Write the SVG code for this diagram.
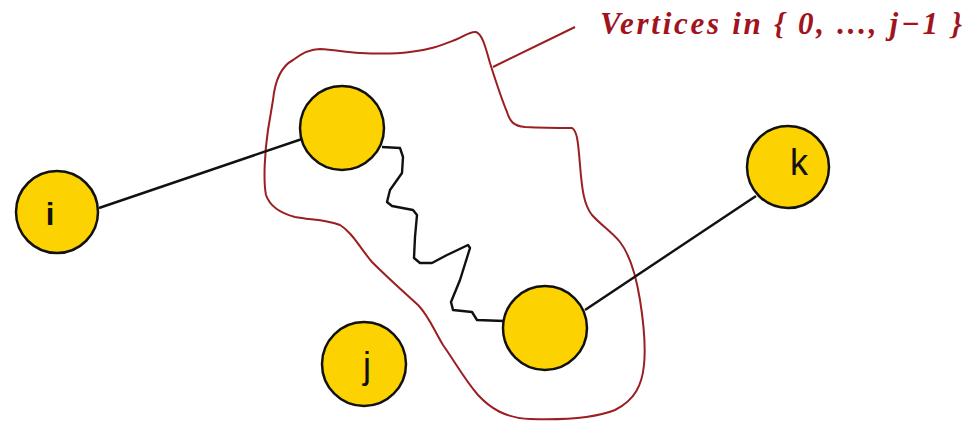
<svg xmlns="http://www.w3.org/2000/svg" width="965" height="421" viewBox="0 0 965 421">
<style>
.node{fill:#FCD200;stroke:#111;stroke-width:2.5}
.edge{fill:none;stroke:#111;stroke-width:2.4;stroke-linejoin:round}
.blob{fill:none;stroke:#9a1f22;stroke-width:2}
.lbl{font-family:"Liberation Sans",Arial,sans-serif;fill:#111;text-anchor:middle}
.cap{font-family:"Liberation Serif","Times New Roman",serif;font-style:italic;font-weight:bold;fill:#a0141e;font-size:31px}
</style>
<rect width="965" height="421" fill="#fff"/>
<g id="region">
<path class="blob" d="M273,100 C275,80 282,66 293,60 C302,53 310,49 320,49 C335,50 345,52 360,53 C380,54 395,54 410,52 C430,50 442,45 455,40 C465,36 470,31 476,32 C482,34 485,45 490,63 C496,82 502,100 507,112 C510,122 514,126 525,127 C545,128 560,128 572,128 C577,131 578,140 580,165 C582,190 584,205 592,215 C602,226 612,232 620,242 C630,255 636,275 640,300 C644,325 646,345 644,365 C642,385 635,400 615,410 C595,418 560,420 530,419 C505,418 490,408 478,395 C465,380 455,362 443,345 C433,328 428,315 418,305 C405,293 390,280 372,262 C360,248 352,232 340,225 C325,219 310,220 295,217 C280,213 270,207 266,195 C263,180 265,150 268,130 Z"/>
<path class="blob" d="M493,67 L575,27"/>
<text class="cap" x="600" y="34" textLength="362" lengthAdjust="spacing">Vertices in { 0, ..., j−1 }</text>
</g>
<g id="connectors">
<path class="edge" d="M99,208 L302,139"/>
<path class="edge" d="M585,310 L756,196"/>
<path class="edge" d="M382,147 L400,148 L403,157 L402,173 L390,190 L387,202 L392,206 L413,210 L417,215 L415,237 L414,258 L420,263 L432,263 L447,255 L468,245 L470,248 L460,280 L451,302 L453,310 L472,312 L477,320 L504,321"/>
</g>
<g id="node-i">
<circle class="node" cx="57" cy="212" r="41"/>
<text class="lbl" x="50" y="225" font-size="31" font-weight="bold">i</text>
</g>
<g id="node-a">
<circle class="node" cx="342" cy="128" r="42"/>
</g>
<g id="node-k">
<circle class="node" cx="788" cy="167" r="41"/>
<text class="lbl" x="799" y="175" font-size="36">k</text>
</g>
<g id="node-j">
<circle class="node" cx="364" cy="364" r="42"/>
<text class="lbl" x="367" y="378" font-size="36">j</text>
</g>
<g id="node-b">
<circle class="node" cx="545" cy="328" r="42"/>
</g>
</svg>
